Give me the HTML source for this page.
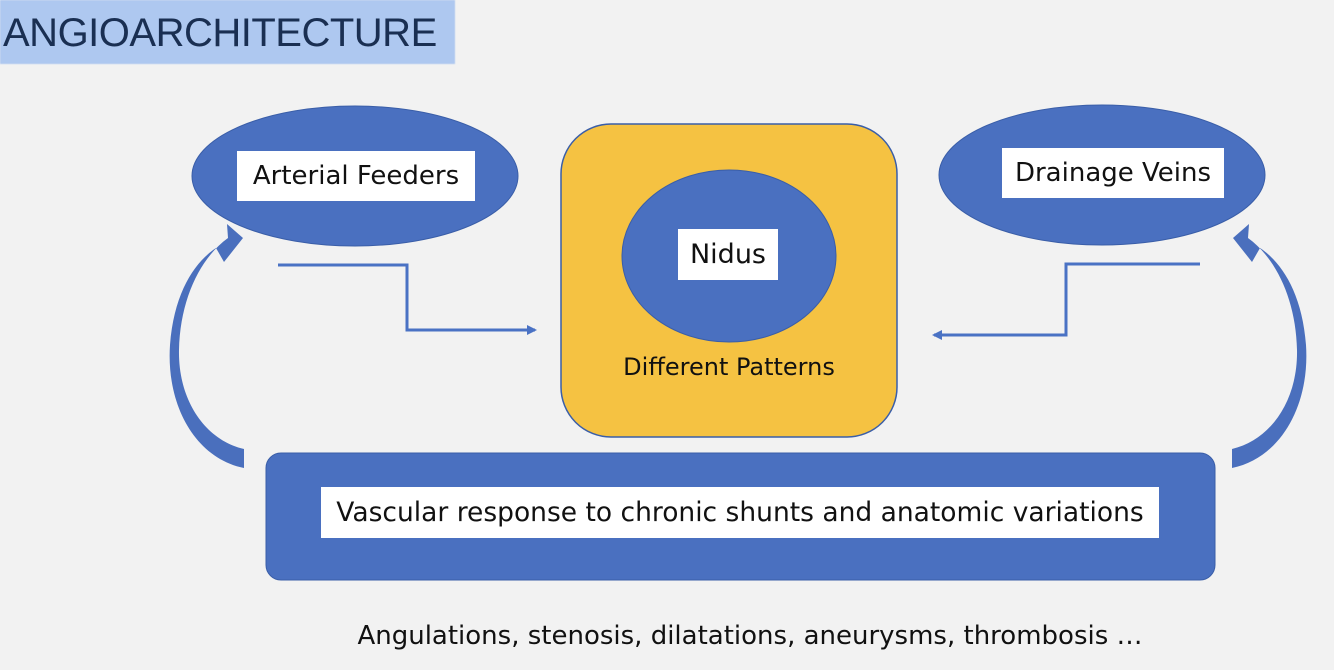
<!DOCTYPE html>
<html><head><meta charset="utf-8"><style>
body{margin:0;width:1334px;height:670px;background:#f2f2f2;overflow:hidden;font-family:"Liberation Sans",sans-serif;position:relative}
.t{position:absolute;left:0;top:0;width:455px;height:64px;background:#aec8f0;filter:blur(0.5px)}
.tt{position:absolute;left:3px;top:11px;font-size:40px;color:#1a2f52;letter-spacing:-0.5px}
.lb{position:absolute;background:#fff;color:#111;display:flex;align-items:center;justify-content:center;font-family:"DejaVu Sans",sans-serif;white-space:nowrap}
</style></head><body>
<div class="t"></div><div class="tt">ANGIOARCHITECTURE</div>
<svg width="1334" height="670" style="position:absolute;left:0;top:0">
<defs><marker id="a" markerWidth="10" markerHeight="10" refX="8" refY="5" orient="auto" markerUnits="userSpaceOnUse"><path d="M0,0 L10,5 L0,10 Z" fill="#4a72c4"/></marker></defs>
<ellipse cx="355" cy="176" rx="163" ry="70" fill="#4a70c0" stroke="#3a5ea8"/>
<ellipse cx="1102" cy="175" rx="163" ry="70" fill="#4a70c0" stroke="#3a5ea8"/>
<rect x="561" y="124" width="336" height="313" rx="50" fill="#f5c242" stroke="#3a5ea8" stroke-width="1.5"/>
<ellipse cx="729" cy="256" rx="107" ry="86" fill="#4a70c0" stroke="#3a5ea8"/>
<rect x="266" y="453" width="949" height="127" rx="15" fill="#4a70c0" stroke="#3a5ea8"/>
<polyline points="278,265 407,265 407,330 535,330" fill="none" stroke="#4a72c4" stroke-width="3" marker-end="url(#a)"/>
<polyline points="1200,264 1066,264 1066,335 934,335" fill="none" stroke="#4a72c4" stroke-width="3" marker-end="url(#a)"/>
<path d="M244,468 C195,458 166,405 170,345 C174,292 195,262 216,248 L224,262 L243,238 L227,224 L228,238 C200,258 180,300 179,350 C178,400 205,440 244,449 Z" fill="#4a6fbd"/>
<path d="M244,468 C195,458 166,405 170,345 C174,292 195,262 216,248 L224,262 L243,238 L227,224 L228,238 C200,258 180,300 179,350 C178,400 205,440 244,449 Z" fill="#4a6fbd" transform="translate(1476,0) scale(-1,1)"/>
</svg>
<div class="lb" style="left:237px;top:151px;width:238px;height:50px;font-size:26px">Arterial Feeders</div>
<div class="lb" style="left:1002px;top:148px;width:222px;height:50px;font-size:26px">Drainage Veins</div>
<div class="lb" style="left:678px;top:229px;width:100px;height:51px;font-size:27px">Nidus</div>
<div style="position:absolute;left:561px;top:353px;width:336px;text-align:center;font-size:24px;font-family:'DejaVu Sans',sans-serif;color:#111">Different Patterns</div>
<div class="lb" style="left:321px;top:487px;width:838px;height:51px;font-size:26.5px">Vascular response to chronic shunts and anatomic variations</div>
<div style="position:absolute;left:250px;top:621px;width:1000px;text-align:center;font-size:26px;font-family:'DejaVu Sans',sans-serif;color:#111">Angulations, stenosis, dilatations, aneurysms, thrombosis …</div>
</body></html>
